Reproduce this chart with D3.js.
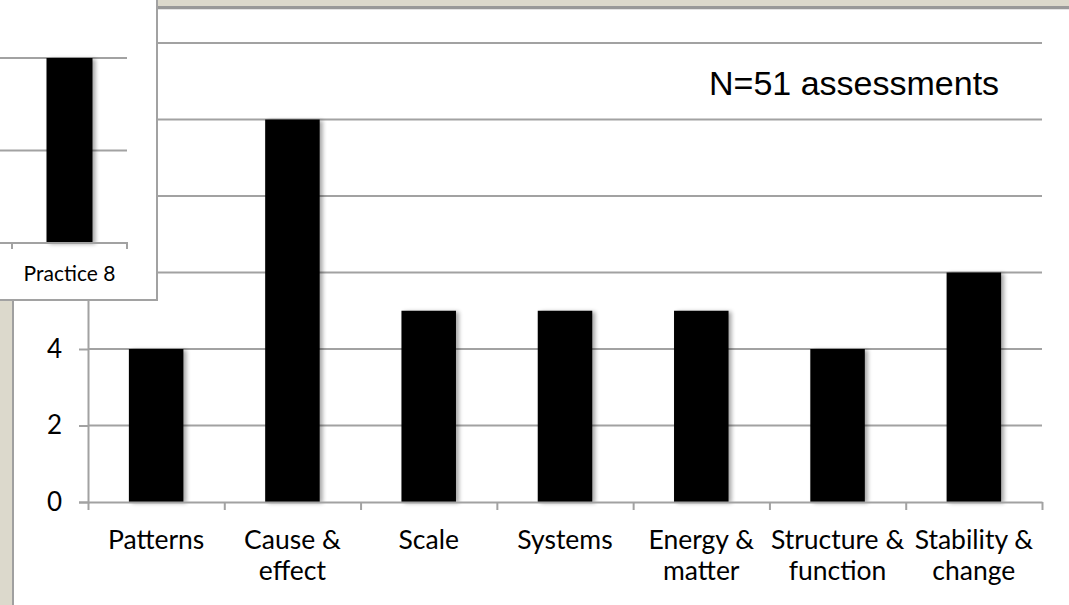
<!DOCTYPE html>
<html>
<head>
<meta charset="utf-8">
<script src="https://cdn.jsdelivr.net/npm/d3@7"></script>
<style>
  html, body { margin: 0; padding: 0; background: #ffffff; }
  svg { display: block; }
</style>
</head>
<body>
<svg id="chart" width="1069" height="605"></svg>
<script>
// Crosscutting concepts addressed across the assessments
const categories = [
  ["Patterns"],
  ["Cause &", "effect"],
  ["Scale"],
  ["Systems"],
  ["Energy &", "matter"],
  ["Structure &", "function"],
  ["Stability &", "change"]
];
const counts = [4, 10, 5, 5, 5, 4, 6];
const yTicks = [0, 2, 4, 6, 8, 10, 12, 14];
// only the lower tick labels sit outside the overlapping panel
const yTickLabels = ["0", "2", "4"];
const note = "N=51 assessments";

// Overlapping panel from the practices chart
const insetCategories = ["Practice 8"];
const insetValues = [20];
const insetTicks = [0, 10, 20, 30];

const W = 1069, H = 605;
const svg = d3.select("#chart");
const labelFont = "Lato, 'Open Sans', sans-serif";
const gridColor = "#a2a2a2";

// soft shadow under the bars
const defs = svg.append("defs");
const shadow = defs.append("filter").attr("id", "barShadow")
  .attr("x", "-20%").attr("y", "-5%").attr("width", "150%").attr("height", "115%");
shadow.append("feGaussianBlur").attr("in", "SourceAlpha").attr("stdDeviation", 2.2).attr("result", "b");
shadow.append("feOffset").attr("in", "b").attr("dx", 2.5).attr("dy", 1).attr("result", "o");
shadow.append("feComponentTransfer").attr("in", "o").attr("result", "s")
  .append("feFuncA").attr("type", "linear").attr("slope", 0.35);
const merge = shadow.append("feMerge");
merge.append("feMergeNode").attr("in", "s");
merge.append("feMergeNode").attr("in", "SourceGraphic");

// window frame: top band and left strip
svg.append("rect").attr("x", 0).attr("y", 0).attr("width", W).attr("height", 7).attr("fill", "#dcd9cc");
svg.append("rect").attr("x", 0).attr("y", 6).attr("width", W).attr("height", 3).attr("fill", "#999999");
svg.append("rect").attr("x", 0).attr("y", 9).attr("width", W).attr("height", 1).attr("fill", "#e4e4e4");
svg.append("rect").attr("x", 0).attr("y", 0).attr("width", 12).attr("height", H).attr("fill", "#dcd9cc");
svg.append("rect").attr("x", 12).attr("y", 0).attr("width", 2).attr("height", H).attr("fill", "#a0a0a0");

// ---- main chart ----
const plot = { left: 88, right: 1042, top: -33.5, bottom: 502 };
const x = d3.scaleBand()
  .domain(d3.range(categories.length))
  .range([plot.left, plot.right])
  .paddingInner(0.6)
  .paddingOuter(0.3);
const xEdges = d3.scaleLinear().domain([0, categories.length]).range([plot.left, plot.right]);
const y = d3.scaleLinear().domain([0, 14]).range([plot.bottom, plot.top]);

const main = svg.append("g");

// horizontal gridlines
main.append("g")
  .selectAll("line")
  .data(yTicks.filter(d => d > 0))
  .join("line")
  .attr("x1", plot.left).attr("x2", plot.right)
  .attr("y1", d => y(d)).attr("y2", d => y(d))
  .attr("stroke", gridColor).attr("stroke-width", 2);

// bars
main.append("g")
  .selectAll("rect")
  .data(counts)
  .join("rect")
  .attr("x", (d, i) => x(i))
  .attr("width", x.bandwidth())
  .attr("y", d => y(d))
  .attr("height", d => y(0) - y(d))
  .attr("fill", "#000000")
  .attr("filter", "url(#barShadow)");

// y axis
const yAxis = main.append("g")
  .attr("transform", `translate(${plot.left},0)`)
  .call(d3.axisLeft(y).tickValues(yTicks).tickSize(9).tickPadding(17)
    .tickFormat(d => yTickLabels.includes(String(d)) ? String(d) : ""));
yAxis.select(".domain").attr("stroke", gridColor).attr("stroke-width", 2);
yAxis.selectAll(".tick line").attr("stroke", gridColor).attr("stroke-width", 2);
yAxis.selectAll(".tick text")
  .attr("font-family", labelFont).attr("font-size", 26).attr("fill", "#000");
yAxis.selectAll(".tick text").filter(function () { return this.textContent === ""; }).remove();

// x axis with ticks on category boundaries
const xAxis = main.append("g")
  .attr("transform", `translate(0,${plot.bottom})`)
  .call(d3.axisBottom(xEdges).tickValues(d3.range(categories.length + 1)).tickSize(8).tickSizeOuter(0).tickFormat(""));
xAxis.select(".domain").attr("stroke", gridColor).attr("stroke-width", 2);
xAxis.selectAll(".tick line").attr("stroke", gridColor).attr("stroke-width", 2);
xAxis.selectAll(".tick text").remove();

// category labels
const catLabels = main.append("g")
  .selectAll("text")
  .data(categories)
  .join("text")
  .attr("x", (d, i) => x(i) + x.bandwidth() / 2)
  .attr("y", 549)
  .attr("text-anchor", "middle")
  .attr("font-family", labelFont)
  .attr("font-size", 26.5)
  .attr("fill", "#000");
catLabels.selectAll("tspan")
  .data(d => d)
  .join("tspan")
  .attr("x", function () { return d3.select(this.parentNode).attr("x"); })
  .attr("dy", (d, i) => i === 0 ? 0 : 31)
  .text(d => d);

// sample size note
main.append("text")
  .attr("x", 709).attr("y", 95)
  .attr("font-family", "'Liberation Sans', Arial, sans-serif")
  .attr("font-size", 34)
  .attr("fill", "#000")
  .text(note);

// ---- overlapping panel ----
const inset = svg.append("g");
inset.append("rect")
  .attr("x", -3).attr("y", -3).attr("width", 160).attr("height", 303)
  .attr("fill", "#ffffff").attr("stroke", gridColor).attr("stroke-width", 2);

const ix = d3.scaleBand().domain(insetCategories).range([12, 127]).paddingInner(0.6).paddingOuter(0.3);
const iy = d3.scaleLinear().domain([0, 30]).range([243, -34.5]);

inset.append("g")
  .selectAll("line")
  .data(insetTicks.filter(d => d > 0))
  .join("line")
  .attr("x1", -3).attr("x2", 127)
  .attr("y1", d => iy(d)).attr("y2", d => iy(d))
  .attr("stroke", gridColor).attr("stroke-width", 2);

inset.append("g")
  .selectAll("rect")
  .data(insetValues)
  .join("rect")
  .attr("x", (d, i) => ix(insetCategories[i]))
  .attr("width", ix.bandwidth())
  .attr("y", d => iy(d))
  .attr("height", d => iy(0) - iy(d))
  .attr("fill", "#000")
  .attr("filter", "url(#barShadow)");

// inset axis line with boundary ticks
inset.append("line")
  .attr("x1", -3).attr("x2", 128).attr("y1", iy(0)).attr("y2", iy(0))
  .attr("stroke", gridColor).attr("stroke-width", 2);
inset.append("g")
  .selectAll("line")
  .data([12, 127])
  .join("line")
  .attr("x1", d => d).attr("x2", d => d)
  .attr("y1", iy(0)).attr("y2", iy(0) + 6)
  .attr("stroke", gridColor).attr("stroke-width", 2);

inset.append("g")
  .selectAll("text")
  .data(insetCategories)
  .join("text")
  .attr("x", d => ix(d) + ix.bandwidth() / 2)
  .attr("y", 281)
  .attr("text-anchor", "middle")
  .attr("font-family", labelFont)
  .attr("font-size", 21)
  .attr("fill", "#000")
  .text(d => d);
</script>
</body>
</html>
